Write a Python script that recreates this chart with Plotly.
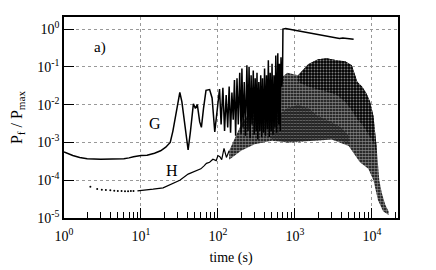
import plotly.graph_objects as go

# G curve (solid line)
g_t = [1.0, 1.3, 1.6, 2.0, 3.0, 4.0, 5.0, 6.0, 7.0, 8.0, 10.0, 12.0, 15.0, 18.0, 21.0, 24.0,
       26.0, 28.0, 30.0, 32.0, 34.0, 37.0, 41.0, 44.0, 48.0, 51.0, 54.0, 58.0, 61.0, 65.0,
       70.0, 78.0, 84.0, 91.0, 98.0, 105.0,
       110, 116, 122, 128, 134, 140, 146, 152, 158, 164, 170, 177, 184, 192, 200, 205, 212,
       220, 228, 238, 246, 254, 262, 270, 278, 288, 296, 305, 314, 322, 330, 340, 350, 360,
       370, 380, 392, 404, 416, 428, 440, 452, 465, 478, 492, 505, 520, 535, 550, 565, 580,
       600, 615, 630, 645, 660, 675, 690, 700, 760, 1000, 1500, 2000, 2600, 3400, 3800, 4200,
       5000, 5800]
g_p = [5.6e-4, 4.5e-4, 4.0e-4, 3.7e-4, 3.6e-4, 3.6e-4, 3.6e-4, 3.7e-4, 3.9e-4, 4.2e-4, 4.5e-4,
       4.6e-4, 5.2e-4, 6.0e-4, 7.5e-4, 1.0e-3,
       2.0e-3, 5.0e-3, 1.2e-2, 2.1e-2, 1.2e-2, 3.0e-3, 6.3e-4, 2.0e-3, 1.05e-2, 8.0e-3, 1.0e-2,
       3.5e-3, 2.5e-3, 8.0e-3,
       2.4e-2, 2.5e-2, 1.5e-2, 1.9e-3, 8.0e-3, 2.6e-2,
       0.003, 0.028, 0.002, 0.018, 0.0025, 0.03, 0.0018, 0.021, 0.004, 0.045, 0.0015, 0.05,
       0.003, 0.07, 0.0017, 0.09, 0.0025, 0.04, 0.0015, 0.11, 0.002, 0.1, 0.0013, 0.06, 0.003,
       0.08, 0.0016, 0.05, 0.002, 0.07, 0.0012, 0.04, 0.002, 0.06, 0.0014, 0.05, 0.0018, 0.09,
       0.0015, 0.06, 0.0022, 0.15, 0.0014, 0.07, 0.002, 0.12, 0.0016, 0.06, 0.0025, 0.2, 0.0018,
       0.23, 0.003, 0.12, 0.002, 0.18, 0.03, 0.05, 1.0, 1.03, 0.93, 0.8, 0.72, 0.64, 0.57, 0.56,
       0.58, 0.55, 0.54]

# H curve, early sparse dots
h1_t = [2.2, 2.7, 3.1, 3.5, 4.0, 4.5, 5.0, 5.6, 6.2, 6.8, 7.4, 8.0]
h1_p = [6.7e-5, 5.9e-5, 5.6e-5, 5.5e-5, 5.4e-5, 5.3e-5, 5.2e-5, 5.2e-5, 5.1e-5, 5.1e-5, 5.2e-5, 5.2e-5]

# H curve, rising part
h2_t = [9, 10.7, 14.4, 19.4, 26, 32, 41, 47, 53, 60, 66, 71, 78, 86, 95, 100, 106, 112, 120, 129, 140]
h2_p = [5.2e-5, 5.5e-5, 5.8e-5, 6.3e-5, 8.2e-5, 1.0e-4, 1.45e-4, 1.6e-4, 1.8e-4, 2.0e-4, 2.4e-4,
        2.8e-4, 3.0e-4, 3.6e-4, 3.3e-4, 4.5e-4, 4.2e-4, 3.5e-4, 7.0e-4, 4.0e-4, 6.0e-4]

# H scattered cloud: upper and lower envelopes
hu_t = [140, 200, 300, 500, 650, 800, 1100, 1500, 2000, 2600, 3500, 4500, 5500, 6500, 7500,
        8500, 9500, 10500, 11500, 12500, 13500, 15000, 16500]
hu_p = [6e-4, 3e-3, 1e-2, 0.02, 0.05, 0.07, 0.06, 0.12, 0.16, 0.17, 0.15, 0.14, 0.11, 0.04,
        0.03, 0.02, 0.012, 0.005, 8e-4, 1e-4, 4.5e-5, 2.2e-5, 1.5e-5]
hl_t = [140, 200, 300, 500, 800, 1500, 3000, 5000, 7000, 9000, 10500, 12000, 14000, 16500]
hl_p = [3.5e-4, 6e-4, 9e-4, 1.1e-3, 1.0e-3, 1.1e-3, 1.2e-3, 8e-4, 3e-4, 2e-4, 1e-4, 3e-5, 1.5e-5, 1.2e-5]

# H cloud: dense upper band (lower edge)
hm_t = [1100, 1500, 2000, 2600, 3500, 4500, 5500, 6500, 7500, 8500, 9500, 10500, 11500]
hm_p = [0.04, 0.03, 0.025, 0.022, 0.018, 0.012, 0.007, 0.004, 0.003, 0.002, 0.0015, 0.001, 5e-4]

# H cloud: dense lower band
hb_t = [500, 800, 1100, 1500, 2000, 3000, 4000, 5000]
hb_p = [4e-3, 8e-3, 1e-2, 8e-3, 5e-3, 3.5e-3, 2.5e-3, 1.5e-3]
hbl_t = [500, 800, 1100, 1500, 2000, 3000, 4000, 5000]
hbl_p = [1.2e-3, 1.0e-3, 1.0e-3, 1.1e-3, 1.1e-3, 1.2e-3, 1.1e-3, 9e-4]

x_ticks = [1, 10, 100, 1000, 10000]
x_labels = ["10<sup>0</sup>", "10<sup>1</sup>", "10<sup>2</sup>", "10<sup>3</sup>", "10<sup>4</sup>"]
y_ticks = [1e-5, 1e-4, 1e-3, 1e-2, 1e-1, 1]
y_labels = ["10<sup>-5</sup>", "10<sup>-4</sup>", "10<sup>-3</sup>", "10<sup>-2</sup>", "10<sup>-1</sup>", "10<sup>0</sup>"]
x_minor = [m * d for d in [1, 10, 100, 1000, 10000] for m in range(2, 10)]

fig = go.Figure()
noline = dict(color="rgba(0,0,0,0)", width=0)
# whole cloud, speckled
fig.add_trace(go.Scatter(x=hu_t, y=hu_p, mode="lines", line=noline, showlegend=False))
fig.add_trace(go.Scatter(x=hl_t, y=hl_p, mode="lines", line=noline,
                         fill="tonexty", fillcolor="rgba(0,0,0,0)",
                         fillpattern=dict(shape=".", fgcolor="white", bgcolor="black", size=3, solidity=0.65),
                         showlegend=False))
# dense upper band
fig.add_trace(go.Scatter(x=hu_t[6:19], y=hu_p[6:19], mode="lines", line=noline, showlegend=False))
fig.add_trace(go.Scatter(x=hm_t, y=hm_p, mode="lines", line=noline,
                         fill="tonexty", fillcolor="rgba(0,0,0,0)",
                         fillpattern=dict(shape=".", fgcolor="white", bgcolor="black", size=3, solidity=0.35),
                         showlegend=False))
# dense lower band
fig.add_trace(go.Scatter(x=hb_t, y=hb_p, mode="lines", line=noline, showlegend=False))
fig.add_trace(go.Scatter(x=hbl_t, y=hbl_p, mode="lines", line=noline,
                         fill="tonexty", fillcolor="rgba(0,0,0,0)",
                         fillpattern=dict(shape="|", fgcolor="black", bgcolor="rgba(0,0,0,0)", size=3, solidity=0.5),
                         showlegend=False))
fig.add_trace(go.Scatter(x=h1_t, y=h1_p, mode="markers", marker=dict(color="black", size=2),
                         showlegend=False))
fig.add_trace(go.Scatter(x=h2_t, y=h2_p, mode="lines", line=dict(color="black", width=1.2),
                         showlegend=False))
fig.add_trace(go.Scatter(x=g_t, y=g_p, mode="lines", line=dict(color="black", width=1.5),
                         showlegend=False))

font = "Liberation Serif"
fig.update_layout(
    width=428, height=262,
    margin=dict(l=56, r=38, t=9, b=52),
    paper_bgcolor="white", plot_bgcolor="white",
    font=dict(family=font, size=14, color="black"),
    xaxis=dict(type="log", range=[0, 4.34], tickmode="array", tickvals=x_ticks, ticktext=x_labels,
               ticks="inside", ticklen=10, tickwidth=1.2, tickcolor="black", automargin=False,
               ticklabelstandoff=4,
               showline=True, linecolor="black", linewidth=1.5, mirror=True,
               showgrid=True, gridcolor="#999999", griddash="dot", gridwidth=1,
               minor=dict(tickmode="array", tickvals=x_minor, ticks="inside", ticklen=6,
                          tickcolor="black", tickwidth=1, showgrid=False),
               title=dict(text="time (s)", standoff=10, font=dict(size=14)),
               zeroline=False),
    yaxis=dict(type="log", range=[-5, 0.32], tickmode="array", tickvals=y_ticks, ticktext=y_labels,
               ticks="inside", ticklen=10, tickwidth=1.2, tickcolor="black", automargin=False,
               showline=True, linecolor="black", linewidth=1.5, mirror=True,
               showgrid=True, gridcolor="#999999", griddash="dot", gridwidth=1,
               title=dict(text="P<sub>f</sub> / P<sub>max</sub>", standoff=16, font=dict(size=16)),
               zeroline=False),
    annotations=[
        dict(x=0.47, y=-0.48, xref="x", yref="y", text="a)", showarrow=False, font=dict(size=15)),
        dict(x=1.18, y=-2.5, xref="x", yref="y", text="G", showarrow=False, font=dict(size=16)),
        dict(x=1.40, y=-3.75, xref="x", yref="y", text="H", showarrow=False, font=dict(size=16)),
    ],
)
fig.write_html("out.html")
